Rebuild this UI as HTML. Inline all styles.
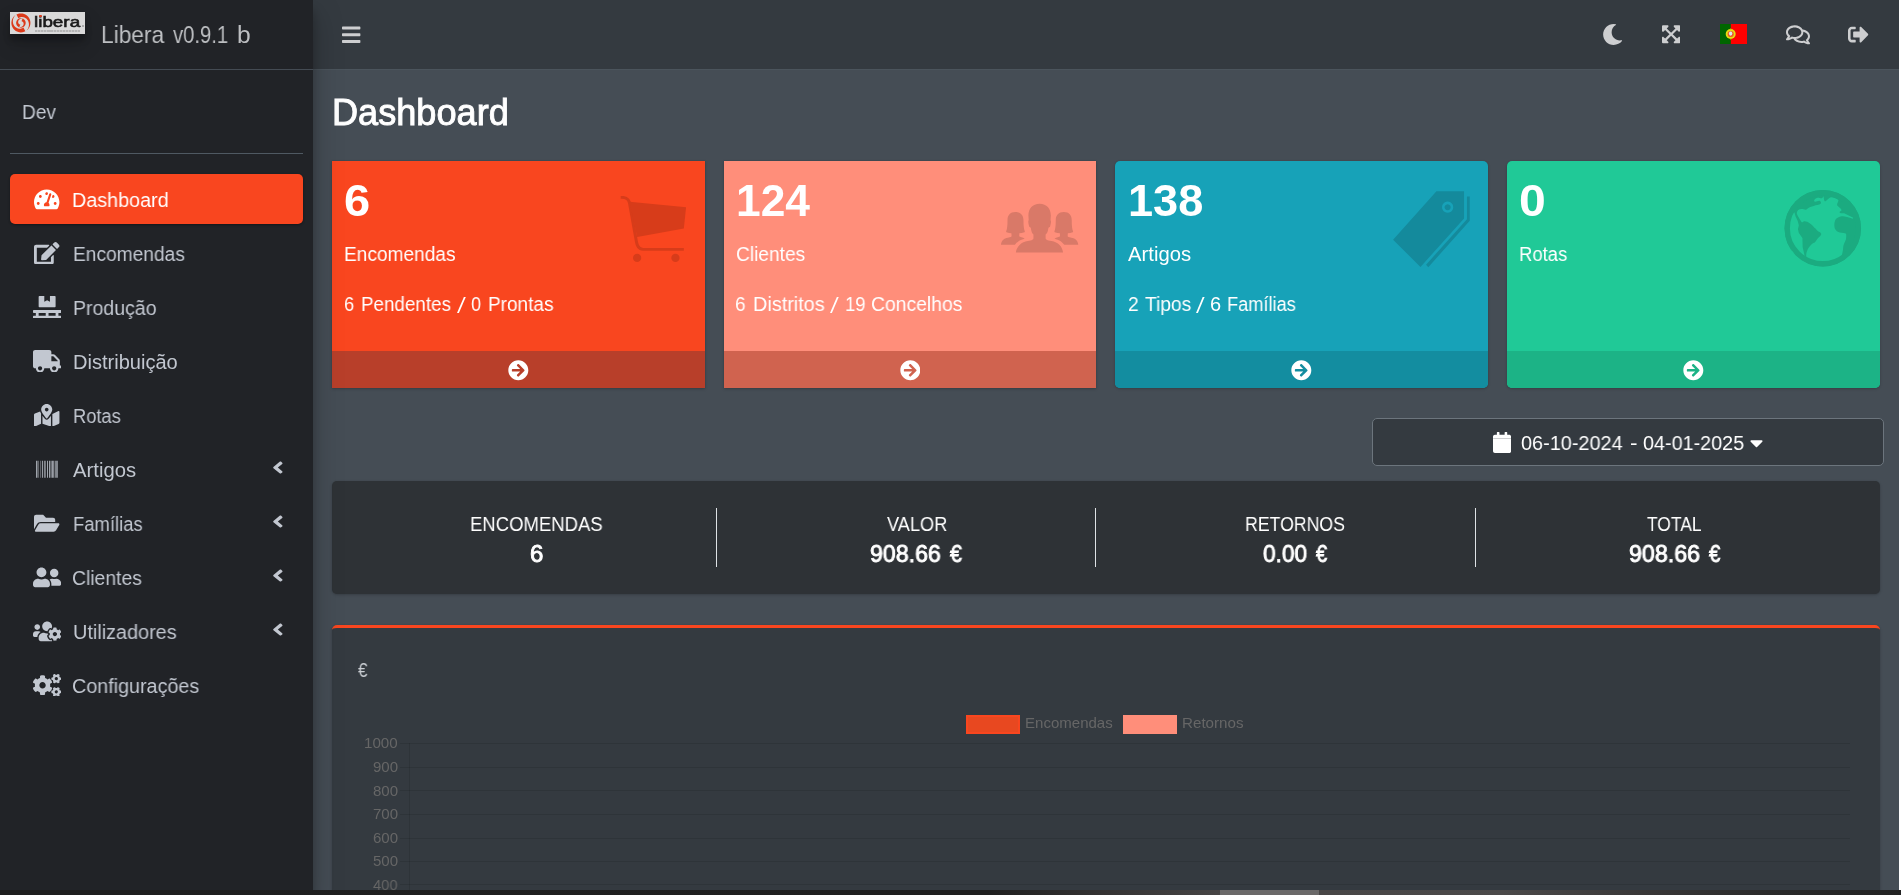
<!DOCTYPE html>
<html><head><meta charset="utf-8"><title>Libera | Dashboard</title>
<style>
html,body{margin:0;padding:0;overflow:hidden}
body{width:1901px;height:895px;overflow:hidden;position:relative;background:#454d55;font-family:"Liberation Sans",sans-serif}
.t{position:absolute;white-space:nowrap;transform-origin:0 50%;display:block;will-change:transform}
</style></head><body><div style="position:absolute;left:313px;top:0px;width:1586px;height:69px;background:#343a40;border-bottom:1px solid #4b545c;box-sizing:content-box"></div><svg style="position:absolute;left:342.20px;top:23.99px" width="18.40" height="21.42" viewBox="0 0 448 512" preserveAspectRatio="none"><path fill="#cdced0" d="M16 132h416c8.837 0 16-7.163 16-16V76c0-8.837-7.163-16-16-16H16C7.163 60 0 67.163 0 76v40c0 8.837 7.163 16 16 16zm0 160h416c8.837 0 16-7.163 16-16v-40c0-8.837-7.163-16-16-16H16c-8.837 0-16 7.163-16 16v40c0 8.837 7.163 16 16 16zm0 160h416c8.837 0 16-7.163 16-16v-40c0-8.837-7.163-16-16-16H16c-8.837 0-16 7.163-16 16v40c0 8.837 7.163 16 16 16z"/></svg><svg style="position:absolute;left:1602.18px;top:23.70px" width="21.24" height="21.00" viewBox="0 0 512 512" preserveAspectRatio="none"><path fill="#cdced0" d="M283.211 512c78.962 0 151.079-35.925 198.857-94.792 7.068-8.708-.639-21.430-11.562-19.350-124.203 23.654-238.262-71.576-238.262-196.954 0-72.222 38.662-138.635 101.498-174.394 9.686-5.512 7.250-20.197-3.756-22.230A258.156 258.156 0 0 0 283.211 0c-141.309 0-256 114.511-256 256 0 141.309 114.511 256 256 256z"/></svg><svg style="position:absolute;left:1662.00px;top:24.41px" width="18.20" height="20.57" viewBox="0 0 448 512" preserveAspectRatio="none"><path fill="#cdced0" d="M448 344v112a23.940 23.940 0 0 1-24 24H312c-21.390 0-32.090-25.900-17-41l36.200-36.200L224 295.600 116.770 402.900 153 439c15.090 15.100 4.390 41-17 41H24a23.940 23.940 0 0 1-24-24V344c0-21.400 25.890-32.100 41-17l36.190 36.200L184.460 256 77.180 148.700 41 185c-15.100 15.100-41 4.400-41-17V56a23.940 23.940 0 0 1 24-24h112c21.390 0 32.090 25.900 17 41l-36.200 36.200L224 216.400l107.230-107.300L295 73c-15.090-15.100-4.390-41 17-41h112a23.940 23.940 0 0 1 24 24v112c0 21.400-25.890 32.100-41 17l-36.190-36.200L263.540 256l107.280 107.300L407 327.100c15.100-15.200 41-4.500 41 16.900z"/></svg><svg style="position:absolute;left:1786.00px;top:23.64px" width="24.00" height="21.71" viewBox="0 0 576 512" preserveAspectRatio="none"><path fill="#cdced0" d="M532 386.200c27.500-27.100 44-61.100 44-98.200 0-80-76.500-146.100-176.200-157.900C368.300 72.500 294.300 32 208 32 93.100 32 0 103.600 0 192c0 37 16.500 71 44 98.200-15.300 30.700-37.300 54.500-37.700 54.900-6.300 6.700-8.100 16.500-4.400 25 3.600 8.500 12 14 21.200 14 53.500 0 96.700-20.200 125.200-38.800 9.200 2.100 18.700 3.700 28.400 4.900C208.100 407.600 281.800 448 368 448c20.800 0 40.800-2.400 59.800-6.800C456.300 459.700 499.400 480 553 480c9.200 0 17.500-5.500 21.200-14 3.600-8.500 1.900-18.300-4.400-25-.4-.3-22.500-24.100-37.800-54.800zm-392.800-92.300L122.100 305c-14.100 9.100-28.500 16.300-43.100 21.400 2.700-4.700 5.400-9.700 8-14.800l15.500-31.100L77.700 256C64.200 242.600 48 220.700 48 192c0-60.700 73.300-112 160-112s160 51.300 160 112-73.300 112-160 112c-16.500 0-33-1.900-49-5.600l-19.800-4.500zM498.300 352l-24.700 24.400 15.500 31.100c2.600 5.100 5.300 10.100 8 14.800-14.600-5.100-29-12.300-43.100-21.400l-17.100-11.100-19.900 4.600c-16 3.700-32.500 5.600-49 5.600-54 0-102.200-20.100-131.300-49.700C338 339.500 416 272.900 416 192c0-3.400-.4-6.700-.7-10C479.700 196.500 528 238.800 528 288c0 28.700-16.200 50.600-29.700 64z"/></svg><svg style="position:absolute;left:1848.40px;top:24.17px" width="20.60" height="21.07" viewBox="0 0 512 512" preserveAspectRatio="none"><path fill="#cdced0" d="M497 273L329 441c-15 15-41 4.500-41-17v-96H152c-13.300 0-24-10.700-24-24v-96c0-13.300 10.700-24 24-24h136V88c0-21.400 25.900-32 41-17l168 168c9.300 9.400 9.300 24.600 0 34zM192 436v-40c0-6.600-5.400-12-12-12H96c-17.700 0-32-14.300-32-32V160c0-17.700 14.300-32 32-32h84c6.600 0 12-5.400 12-12V76c0-6.600-5.400-12-12-12H96c-53 0-96 43-96 96v192c0 53 43 96 96 96h84c6.600 0 12-5.400 12-12z"/></svg><svg style="position:absolute;left:1720px;top:24px" width="27" height="20" viewBox="0 0 27 20"><rect width="27" height="20" fill="#f00"/><rect width="10.8" height="20" fill="#060"/><circle cx="10.7" cy="10" r="5" fill="#e6dc10"/><circle cx="10.7" cy="10" r="3.1" fill="#ee5a2a"/><ellipse cx="10.6" cy="9.6" rx="1.7" ry="2.1" fill="#dfe6f2"/><path d="M10.7 4.4v1.2M10.7 14.4v1.2" stroke="#c8b400" stroke-width="1"/></svg><span id="t1" class="t" style="left:332.29px;top:94.63px;font-size:36px;line-height:36px;color:#fff;font-weight:400;font-family:'Liberation Sans',sans-serif;transform:scaleX(1.0037);-webkit-text-stroke:0.9px #fff;">Dashboard</span><div style="position:absolute;left:332px;top:161px;width:373px;height:227px;background:#f9461f;border-radius:0px;box-shadow:0 0 1px rgba(0,0,0,.125),0 1px 3px rgba(0,0,0,.2);overflow:hidden"></div><div style="position:absolute;left:332px;top:350.8px;width:373px;height:37.2px;background:#b83f2a;border-radius:0 0 0px 0px"></div><svg style="position:absolute;left:508.18px;top:359.98px" width="20.65" height="20.65" viewBox="0 0 512 512" preserveAspectRatio="none"><path fill="#fff" d="M256 8c137 0 248 111 248 248S393 504 256 504 8 393 8 256 119 8 256 8zm-28.900 143.600l75.500 72.400H120c-13.300 0-24 10.700-24 24v16c0 13.300 10.700 24 24 24h182.600l-75.500 72.400c-9.700 9.300-9.900 24.800-.4 34.300l11 10.900c9.400 9.400 24.600 9.400 33.900 0L404.300 273c9.400-9.400 9.400-24.600 0-33.900L271.600 106.300c-9.400-9.400-24.600-9.400-33.900 0l-11 10.900c-9.500 9.600-9.300 25.100.4 34.400z"/></svg><div style="position:absolute;left:724px;top:161px;width:372px;height:227px;background:#ff8e7a;border-radius:0px;box-shadow:0 0 1px rgba(0,0,0,.125),0 1px 3px rgba(0,0,0,.2);overflow:hidden"></div><div style="position:absolute;left:724px;top:350.8px;width:372px;height:37.2px;background:#d0634f;border-radius:0 0 0px 0px"></div><svg style="position:absolute;left:899.68px;top:359.98px" width="20.65" height="20.65" viewBox="0 0 512 512" preserveAspectRatio="none"><path fill="#fff" d="M256 8c137 0 248 111 248 248S393 504 256 504 8 393 8 256 119 8 256 8zm-28.900 143.600l75.500 72.400H120c-13.300 0-24 10.700-24 24v16c0 13.300 10.700 24 24 24h182.600l-75.500 72.400c-9.700 9.300-9.900 24.800-.4 34.300l11 10.900c9.400 9.400 24.600 9.400 33.900 0L404.300 273c9.400-9.400 9.400-24.600 0-33.900L271.600 106.300c-9.400-9.400-24.600-9.400-33.900 0l-11 10.900c-9.500 9.600-9.300 25.100.4 34.400z"/></svg><div style="position:absolute;left:1115px;top:161px;width:373px;height:227px;background:#17a2b8;border-radius:5px;box-shadow:0 0 1px rgba(0,0,0,.125),0 1px 3px rgba(0,0,0,.2);overflow:hidden"></div><div style="position:absolute;left:1115px;top:350.8px;width:373px;height:37.2px;background:#138da0;border-radius:0 0 5px 5px"></div><svg style="position:absolute;left:1291.18px;top:359.98px" width="20.65" height="20.65" viewBox="0 0 512 512" preserveAspectRatio="none"><path fill="#fff" d="M256 8c137 0 248 111 248 248S393 504 256 504 8 393 8 256 119 8 256 8zm-28.900 143.600l75.500 72.400H120c-13.300 0-24 10.700-24 24v16c0 13.300 10.700 24 24 24h182.600l-75.500 72.400c-9.700 9.300-9.900 24.800-.4 34.300l11 10.900c9.400 9.400 24.600 9.400 33.900 0L404.300 273c9.400-9.400 9.400-24.600 0-33.900L271.600 106.300c-9.400-9.400-24.600-9.400-33.900 0l-11 10.900c-9.500 9.600-9.300 25.100.4 34.400z"/></svg><div style="position:absolute;left:1507px;top:161px;width:373px;height:227px;background:#20c997;border-radius:5px;box-shadow:0 0 1px rgba(0,0,0,.125),0 1px 3px rgba(0,0,0,.2);overflow:hidden"></div><div style="position:absolute;left:1507px;top:350.8px;width:373px;height:37.2px;background:#1cb386;border-radius:0 0 5px 5px"></div><svg style="position:absolute;left:1683.18px;top:359.98px" width="20.65" height="20.65" viewBox="0 0 512 512" preserveAspectRatio="none"><path fill="#fff" d="M256 8c137 0 248 111 248 248S393 504 256 504 8 393 8 256 119 8 256 8zm-28.900 143.600l75.500 72.400H120c-13.300 0-24 10.700-24 24v16c0 13.300 10.700 24 24 24h182.600l-75.500 72.400c-9.700 9.300-9.900 24.800-.4 34.300l11 10.900c9.400 9.400 24.600 9.400 33.900 0L404.300 273c9.400-9.400 9.400-24.600 0-33.900L271.600 106.300c-9.400-9.400-24.600-9.400-33.900 0l-11 10.900c-9.500 9.600-9.300 25.100.4 34.400z"/></svg><span id="t2" class="t" style="left:344.46px;top:179.05px;font-size:44px;line-height:44px;color:#fff;font-weight:700;font-family:'Liberation Sans',sans-serif;transform:scaleX(1.0680);">6</span><span id="t3" class="t" style="left:736.42px;top:179.05px;font-size:44px;line-height:44px;color:#fff;font-weight:700;font-family:'Liberation Sans',sans-serif;transform:scaleX(1.0074);">124</span><span id="t4" class="t" style="left:1128.39px;top:179.05px;font-size:44px;line-height:44px;color:#fff;font-weight:700;font-family:'Liberation Sans',sans-serif;transform:scaleX(1.0255);">138</span><span id="t5" class="t" style="left:1518.53px;top:179.05px;font-size:44px;line-height:44px;color:#fff;font-weight:700;font-family:'Liberation Sans',sans-serif;transform:scaleX(1.0939);">0</span><span id="t6" class="t" style="left:344.31px;top:244.07px;font-size:20px;line-height:20px;color:#fff;font-weight:400;font-family:'Liberation Sans',sans-serif;transform:scaleX(0.9560);">Encomendas</span><span id="t7" class="t" style="left:735.54px;top:244.07px;font-size:20px;line-height:20px;color:#fff;font-weight:400;font-family:'Liberation Sans',sans-serif;transform:scaleX(0.9571);">Clientes</span><span id="t8" class="t" style="left:1128.15px;top:244.07px;font-size:20px;line-height:20px;color:#fff;font-weight:400;font-family:'Liberation Sans',sans-serif;transform:scaleX(1.0127);">Artigos</span><span id="t9" class="t" style="left:1519.28px;top:244.07px;font-size:20px;line-height:20px;color:#fff;font-weight:400;font-family:'Liberation Sans',sans-serif;transform:scaleX(0.9248);">Rotas</span><span id="t10" class="t" style="left:344.32px;top:293.67px;font-size:20px;line-height:20px;color:#fff;font-weight:400;font-family:'Liberation Sans',sans-serif;transform:scaleX(0.9158);">6</span><span id="t11" class="t" style="left:360.87px;top:293.67px;font-size:20px;line-height:20px;color:#fff;font-weight:400;font-family:'Liberation Sans',sans-serif;transform:scaleX(0.9402);">Pendentes</span><svg style="position:absolute;left:456.00px;top:296.00px" width="10.80" height="18.10" viewBox="456.00 296.00 10.80 18.10"><path fill="#fff" d="M457.00,313.10 L458.90,313.10 L465.80,297.00 L463.90,297.00Z"/></svg><span id="t12" class="t" style="left:471.45px;top:293.67px;font-size:20px;line-height:20px;color:#fff;font-weight:400;font-family:'Liberation Sans',sans-serif;transform:scaleX(0.9096);">0</span><span id="t13" class="t" style="left:487.96px;top:293.67px;font-size:20px;line-height:20px;color:#fff;font-weight:400;font-family:'Liberation Sans',sans-serif;transform:scaleX(0.9503);">Prontas</span><span id="t14" class="t" style="left:735.36px;top:293.67px;font-size:20px;line-height:20px;color:#fff;font-weight:400;font-family:'Liberation Sans',sans-serif;transform:scaleX(0.9467);">6</span><span id="t15" class="t" style="left:753.04px;top:293.67px;font-size:20px;line-height:20px;color:#fff;font-weight:400;font-family:'Liberation Sans',sans-serif;transform:scaleX(0.9925);">Distritos</span><svg style="position:absolute;left:829.05px;top:296.00px" width="10.75" height="18.10" viewBox="829.05 296.00 10.75 18.10"><path fill="#fff" d="M830.05,313.10 L831.95,313.10 L838.80,297.00 L836.90,297.00Z"/></svg><span id="t16" class="t" style="left:844.50px;top:293.67px;font-size:20px;line-height:20px;color:#fff;font-weight:400;font-family:'Liberation Sans',sans-serif;transform:scaleX(0.9275);">19</span><span id="t17" class="t" style="left:871.20px;top:293.67px;font-size:20px;line-height:20px;color:#fff;font-weight:400;font-family:'Liberation Sans',sans-serif;transform:scaleX(0.9666);">Concelhos</span><span id="t18" class="t" style="left:1127.54px;top:293.67px;font-size:20px;line-height:20px;color:#fff;font-weight:400;font-family:'Liberation Sans',sans-serif;transform:scaleX(0.9563);">2</span><span id="t19" class="t" style="left:1144.84px;top:293.67px;font-size:20px;line-height:20px;color:#fff;font-weight:400;font-family:'Liberation Sans',sans-serif;transform:scaleX(0.9591);">Tipos</span><svg style="position:absolute;left:1195.40px;top:296.00px" width="10.60" height="18.10" viewBox="1195.40 296.00 10.60 18.10"><path fill="#fff" d="M1196.40,313.10 L1198.30,313.10 L1205.00,297.00 L1203.10,297.00Z"/></svg><span id="t20" class="t" style="left:1210.47px;top:293.67px;font-size:20px;line-height:20px;color:#fff;font-weight:400;font-family:'Liberation Sans',sans-serif;transform:scaleX(0.9724);">6</span><span id="t21" class="t" style="left:1227.13px;top:293.67px;font-size:20px;line-height:20px;color:#fff;font-weight:400;font-family:'Liberation Sans',sans-serif;transform:scaleX(0.9112);">Famílias</span><svg style="position:absolute;left:600px;top:180px" width="110" height="100" viewBox="0 0 984 895"><g fill="#d73c1a"><path d="M185,144 L185,168 C225,166 243,175 250,205 L310,540 C318,600 340,632 385,634 L750,634 L750,608 L390,608 C355,606 345,585 337,540 L280,215 C272,165 240,142 185,144 Z"/><path d="M265,195 L770,245 L750,435 L332,510 Z"/><circle cx="332" cy="697" r="37"/><circle cx="675" cy="697" r="37"/></g></svg><svg style="position:absolute;left:985px;top:185px" width="110" height="85" viewBox="0 0 1158 895"><g fill="#d97968"><path d="M575,197 C650,197 693,250 693,320 L690,370 C698,375 695,400 685,440 C680,445 672,445 668,450 C662,490 655,510 638,522 L638,560 C640,575 650,580 700,590 C770,600 815,650 822,712 L325,712 C332,650 380,600 450,590 C500,580 508,575 510,560 L510,522 C495,510 488,490 482,450 C478,445 470,445 466,440 C455,400 452,375 460,370 L457,320 C457,250 500,197 575,197 Z"/><path d="M320,285 C375,285 405,320 405,370 C405,430 410,470 420,490 C420,500 400,505 362,508 L360,540 C365,550 400,552 418,565 C370,575 335,600 315,630 L168,630 C172,585 200,560 240,555 C270,550 280,545 280,540 L278,508 C240,505 222,500 222,490 C232,470 237,430 237,370 C237,320 265,285 320,285 Z"/><path transform="translate(1150,0) scale(-1,1)" d="M320,285 C375,285 405,320 405,370 C405,430 410,470 420,490 C420,500 400,505 362,508 L360,540 C365,550 400,552 418,565 C370,575 335,600 315,630 L168,630 C172,585 200,560 240,555 C270,550 280,545 280,540 L278,508 C240,505 222,500 222,490 C232,470 237,430 237,370 C237,320 265,285 320,285 Z"/></g></svg><svg style="position:absolute;left:1380px;top:180px" width="110" height="100" viewBox="0 0 984 895"><g fill="#148a9c"><path fill-rule="evenodd" d="M505,100 L752,100 L752,345 L362,778 L117,535 Z M605,193 a50,50 0 1 0 0.1,0 Z M605,216 a27,27 0 1 1 -0.1,0 Z"/><path d="M778,147 L803,147 L803,365 L432,780 L412,758 L778,352 Z"/></g></svg><svg style="position:absolute;left:1770px;top:180px" width="110" height="100" viewBox="0 0 984 895"><circle cx="472" cy="432" r="342" fill="#1bab80"/><g fill="#20c997"><path d="M218,288 L150,330 L140,500 L200,650 L312,690 L292,600 L290,520 L258,475 L250,440 L258,405 L248,368 L228,325 Z"/><path d="M240,300 C235,270 270,250 300,262 C315,268 325,268 330,262 C345,245 400,228 440,220 C458,215 460,200 450,190 C435,180 420,195 405,195 C385,190 395,170 420,160 C440,155 460,170 468,160 L478,145 C485,160 480,185 492,192 C510,185 525,160 545,155 C570,158 600,165 612,180 C612,200 595,215 602,228 C615,245 640,255 640,270 C635,280 620,280 622,288 C635,305 655,295 668,300 L745,338 L740,346 C700,330 660,322 640,325 C615,330 600,340 588,352 C575,375 572,410 580,435 C590,455 605,468 625,470 C645,475 670,470 680,482 C685,500 680,515 680,530 C670,560 655,580 655,600 C655,630 645,660 640,690 L600,740 L350,740 L325,690 C320,660 330,630 350,600 C365,580 385,565 400,560 C415,545 420,530 430,520 C445,505 462,495 458,480 C450,465 435,465 425,455 C415,445 410,435 400,430 C385,410 365,395 355,388 C340,375 320,368 305,370 C295,375 290,382 283,378 C272,365 268,352 262,345 C255,330 245,320 240,300 Z"/></g><circle cx="472" cy="432" r="318" fill="none" stroke="#1bab80" stroke-width="48"/></svg><div style="position:absolute;left:1372px;top:418px;width:512px;height:47.5px;background:#343a40;border:1px solid #6c757d;border-radius:5px;box-sizing:border-box"></div><svg style="position:absolute;left:1493.00px;top:431.90px" width="18.10" height="21.00" viewBox="0 0 448 512" preserveAspectRatio="none"><path fill="#fff" d="M12 192h424c6.600 0 12 5.400 12 12v260c0 26.500-21.500 48-48 48H48c-26.500 0-48-21.500-48-48V204c0-6.600 5.400-12 12-12zm436-44v-36c0-26.500-21.500-48-48-48h-48V12c0-6.600-5.400-12-12-12h-40c-6.600 0-12 5.400-12 12v52H160V12c0-6.600-5.400-12-12-12h-40c-6.600 0-12 5.400-12 12v52H48C21.500 64 0 85.500 0 112v36c0 6.600 5.400 12 12 12h424c6.600 0 12-5.400 12-12zM0 150h448v52H0z"/></svg><span id="t22" class="t" style="left:1520.83px;top:433.07px;font-size:20px;line-height:20px;color:#fff;font-weight:400;font-family:'Liberation Sans',sans-serif;transform:scaleX(0.9934);">06-10-2024</span><span id="t23" class="t" style="left:1630.10px;top:433.07px;font-size:20px;line-height:20px;color:#fff;font-weight:400;font-family:'Liberation Sans',sans-serif;transform:scaleX(1.1258);">-</span><span id="t24" class="t" style="left:1642.81px;top:433.07px;font-size:20px;line-height:20px;color:#fff;font-weight:400;font-family:'Liberation Sans',sans-serif;transform:scaleX(0.9884);">04-01-2025</span><svg style="position:absolute;left:1750.33px;top:431.62px" width="13.03" height="21.81" viewBox="0 0 320 512" preserveAspectRatio="none"><path fill="#fff" d="M31.3 192h257.300c17.800 0 26.700 21.500 14.100 34.100L174.100 354.800c-7.800 7.800-20.500 7.800-28.300 0L17.200 226.100C4.600 213.500 13.500 192 31.300 192z"/></svg><div style="position:absolute;left:332px;top:480.7px;width:1548px;height:113.6px;background:#2e3236;border-radius:5px;box-shadow:0 0 1px rgba(0,0,0,.125),0 1px 3px rgba(0,0,0,.2)"></div><div style="position:absolute;left:716px;top:508px;width:1px;height:58.5px;background:#dee2e6;"></div><div style="position:absolute;left:1095px;top:508px;width:1px;height:58.5px;background:#dee2e6;"></div><div style="position:absolute;left:1475px;top:508px;width:1px;height:58.5px;background:#dee2e6;"></div><span id="t25" class="t" style="left:469.97px;top:514.27px;font-size:20px;line-height:20px;color:#fff;font-weight:400;font-family:'Liberation Sans',sans-serif;transform:scaleX(0.9254);">ENCOMENDAS</span><span id="t26" class="t" style="left:887.37px;top:514.27px;font-size:20px;line-height:20px;color:#fff;font-weight:400;font-family:'Liberation Sans',sans-serif;transform:scaleX(0.9087);">VALOR</span><span id="t27" class="t" style="left:1245.46px;top:514.27px;font-size:20px;line-height:20px;color:#fff;font-weight:400;font-family:'Liberation Sans',sans-serif;transform:scaleX(0.8840);">RETORNOS</span><span id="t28" class="t" style="left:1647.29px;top:514.27px;font-size:20px;line-height:20px;color:#fff;font-weight:400;font-family:'Liberation Sans',sans-serif;transform:scaleX(0.8703);">TOTAL</span><span id="t29" class="t" style="left:529.94px;top:541.58px;font-size:24px;line-height:24px;color:#fff;font-weight:400;font-family:'Liberation Sans',sans-serif;transform:scaleX(0.9797);-webkit-text-stroke:0.9px #fff;">6</span><span id="t30" class="t" style="left:869.83px;top:541.58px;font-size:24px;line-height:24px;color:#fff;font-weight:400;font-family:'Liberation Sans',sans-serif;transform:scaleX(0.9647);-webkit-text-stroke:0.9px #fff;">908.66</span><span id="t31" class="t" style="left:950.23px;top:541.58px;font-size:24px;line-height:24px;color:#fff;font-weight:400;font-family:'Liberation Sans',sans-serif;transform:scaleX(0.8876);-webkit-text-stroke:0.9px #fff;">€</span><span id="t32" class="t" style="left:1262.72px;top:541.58px;font-size:24px;line-height:24px;color:#fff;font-weight:400;font-family:'Liberation Sans',sans-serif;transform:scaleX(0.9453);-webkit-text-stroke:0.9px #fff;">0.00</span><span id="t33" class="t" style="left:1315.96px;top:541.58px;font-size:24px;line-height:24px;color:#fff;font-weight:400;font-family:'Liberation Sans',sans-serif;transform:scaleX(0.8276);-webkit-text-stroke:0.9px #fff;">€</span><span id="t34" class="t" style="left:1629.03px;top:541.58px;font-size:24px;line-height:24px;color:#fff;font-weight:400;font-family:'Liberation Sans',sans-serif;transform:scaleX(0.9681);-webkit-text-stroke:0.9px #fff;">908.66</span><span id="t35" class="t" style="left:1709.46px;top:541.58px;font-size:24px;line-height:24px;color:#fff;font-weight:400;font-family:'Liberation Sans',sans-serif;transform:scaleX(0.8477);-webkit-text-stroke:0.9px #fff;">€</span><div style="position:absolute;left:332px;top:625px;width:1548px;height:266.5px;background:#343a40;border-top:3.5px solid #f9461f;border-radius:5px 5px 0 0;box-shadow:0 0 1px rgba(0,0,0,.125),0 1px 3px rgba(0,0,0,.2)"></div><span id="t36" class="t" style="left:357.59px;top:660.07px;font-size:20px;line-height:20px;color:#c9cdd2;font-weight:400;font-family:'Liberation Sans',sans-serif;transform:scaleX(0.8462);">€</span><div style="position:absolute;left:966px;top:714.6px;width:54px;height:19px;background:#e84820;border:2px solid #f9461f;box-sizing:border-box"></div><div style="position:absolute;left:1123px;top:714.6px;width:54.3px;height:19px;background:#ff8e7a;"></div><span id="t37" class="t" style="left:1024.81px;top:714.90px;font-size:15px;line-height:15px;color:#666;font-weight:400;font-family:'Liberation Sans',sans-serif;transform:scaleX(1.0019);">Encomendas</span><span id="t38" class="t" style="left:1182.22px;top:714.90px;font-size:15px;line-height:15px;color:#666;font-weight:400;font-family:'Liberation Sans',sans-serif;transform:scaleX(1.0106);">Retornos</span><div style="position:absolute;left:400px;top:742.5px;width:1450px;height:1px;background:rgba(0,0,0,.1);"></div><span id="t39" class="t" style="left:364.12px;top:735.20px;font-size:15px;line-height:15px;color:#666;font-weight:400;font-family:'Liberation Sans',sans-serif;transform:scaleX(1.0093);">1000</span><div style="position:absolute;left:400px;top:766.5px;width:1450px;height:1px;background:rgba(0,0,0,.1);"></div><span id="t40" class="t" style="left:372.96px;top:759.00px;font-size:15px;line-height:15px;color:#666;font-weight:400;font-family:'Liberation Sans',sans-serif;transform:scaleX(1.0026);">900</span><div style="position:absolute;left:400px;top:789.5px;width:1450px;height:1px;background:rgba(0,0,0,.1);"></div><span id="t41" class="t" style="left:372.96px;top:782.50px;font-size:15px;line-height:15px;color:#666;font-weight:400;font-family:'Liberation Sans',sans-serif;transform:scaleX(1.0026);">800</span><div style="position:absolute;left:400px;top:813.5px;width:1450px;height:1px;background:rgba(0,0,0,.1);"></div><span id="t42" class="t" style="left:372.96px;top:806.00px;font-size:15px;line-height:15px;color:#666;font-weight:400;font-family:'Liberation Sans',sans-serif;transform:scaleX(1.0026);">700</span><div style="position:absolute;left:400px;top:837.5px;width:1450px;height:1px;background:rgba(0,0,0,.1);"></div><span id="t43" class="t" style="left:372.96px;top:829.50px;font-size:15px;line-height:15px;color:#666;font-weight:400;font-family:'Liberation Sans',sans-serif;transform:scaleX(1.0026);">600</span><div style="position:absolute;left:400px;top:860.5px;width:1450px;height:1px;background:rgba(0,0,0,.1);"></div><span id="t44" class="t" style="left:372.96px;top:853.00px;font-size:15px;line-height:15px;color:#666;font-weight:400;font-family:'Liberation Sans',sans-serif;transform:scaleX(1.0026);">500</span><div style="position:absolute;left:400px;top:883.5px;width:1450px;height:1px;background:rgba(0,0,0,.1);"></div><span id="t45" class="t" style="left:373.13px;top:876.50px;font-size:15px;line-height:15px;color:#666;font-weight:400;font-family:'Liberation Sans',sans-serif;transform:scaleX(0.9795);">400</span><div style="position:absolute;left:409px;top:743px;width:1px;height:149px;background:rgba(0,0,0,.1);"></div><div style="position:absolute;left:0px;top:0px;width:313px;height:895px;background:#212327;box-shadow:0 14px 28px rgba(0,0,0,.25),0 10px 10px rgba(0,0,0,.22)"></div><div style="position:absolute;left:0px;top:69px;width:313px;height:1px;background:#444b53;"></div><div style="position:absolute;left:10px;top:12px;width:75px;height:22px;background:#d9d9d9;box-shadow:0 10px 20px rgba(0,0,0,.19),0 6px 6px rgba(0,0,0,.23)"></div>
<svg style="position:absolute;left:10.8px;top:13.1px" width="19.8" height="19.8" viewBox="0 0 100 100"><path fill="#dc3a1a" d="M27.5,7.6 L30.7,6.0 L34.1,4.7 L37.6,3.6 L41.1,2.8 L44.7,2.3 L48.3,2.0 L51.9,2.0 L55.5,2.3 L59.1,2.9 L62.6,3.7 L66.1,4.8 L69.4,6.1 L72.7,7.7 L75.8,9.5 L78.8,11.6 L81.6,13.9 L84.3,16.4 L86.7,19.1 L88.9,21.9 L90.9,24.9 L92.7,28.1 L94.2,31.4 L95.5,34.7 L96.5,38.2 L97.3,41.8 L97.8,45.4 L98.0,49.0 L97.9,52.6 L97.6,56.2 L97.0,59.8 L96.1,63.3 L95.0,66.7 L93.6,70.1 L92.0,73.3 L90.1,76.4 L88.0,79.4 L85.7,82.1 L83.1,84.7 L80.4,87.1 L77.5,89.3 L77.5,89.3 L80.0,86.6 L82.2,83.8 L84.2,80.8 L85.9,77.7 L87.3,74.6 L88.5,71.4 L89.4,68.1 L90.0,64.9 L90.4,61.7 L90.6,58.4 L90.5,55.3 L90.1,52.2 L89.6,49.2 L88.8,46.2 L87.8,43.4 L86.7,40.7 L85.3,38.2 L83.8,35.8 L82.1,33.5 L80.3,31.4 L78.4,29.5 L76.3,27.8 L74.2,26.2 L72.0,24.9 L69.7,23.7 L67.4,22.7 L65.1,21.9 L62.7,21.3 L60.4,20.9 L58.0,20.6 L55.7,20.5 L53.4,20.6 L51.2,20.8 L49.0,21.2 L46.8,21.8 L44.8,22.4 L42.8,23.2 L40.9,24.1 L39.1,25.1 L37.3,26.2ZM72.5,92.4 L69.3,94.0 L65.9,95.3 L62.4,96.4 L58.9,97.2 L55.3,97.7 L51.7,98.0 L48.1,98.0 L44.5,97.7 L40.9,97.1 L37.4,96.3 L33.9,95.2 L30.6,93.9 L27.3,92.3 L24.2,90.5 L21.2,88.4 L18.4,86.1 L15.7,83.6 L13.3,80.9 L11.1,78.1 L9.1,75.1 L7.3,71.9 L5.8,68.6 L4.5,65.3 L3.5,61.8 L2.7,58.2 L2.2,54.6 L2.0,51.0 L2.1,47.4 L2.4,43.8 L3.0,40.2 L3.9,36.7 L5.0,33.3 L6.4,29.9 L8.0,26.7 L9.9,23.6 L12.0,20.6 L14.3,17.9 L16.9,15.3 L19.6,12.9 L22.5,10.7 L22.5,10.7 L20.0,13.4 L17.8,16.2 L15.8,19.2 L14.1,22.3 L12.7,25.4 L11.5,28.6 L10.6,31.9 L10.0,35.1 L9.6,38.3 L9.4,41.6 L9.5,44.7 L9.9,47.8 L10.4,50.8 L11.2,53.8 L12.2,56.6 L13.3,59.3 L14.7,61.8 L16.2,64.2 L17.9,66.5 L19.7,68.6 L21.6,70.5 L23.7,72.2 L25.8,73.8 L28.0,75.1 L30.3,76.3 L32.6,77.3 L34.9,78.1 L37.3,78.7 L39.6,79.1 L42.0,79.4 L44.3,79.5 L46.6,79.4 L48.8,79.2 L51.0,78.8 L53.2,78.2 L55.2,77.6 L57.2,76.8 L59.1,75.9 L60.9,74.9 L62.7,73.8ZM58.2,27.4 L60.0,28.2 L61.8,29.1 L63.5,30.2 L65.1,31.3 L66.6,32.7 L68.0,34.1 L69.2,35.6 L70.4,37.3 L71.3,39.0 L72.2,40.8 L72.9,42.7 L73.4,44.6 L73.8,46.6 L74.0,48.5 L74.0,50.5 L73.9,52.5 L73.6,54.5 L73.1,56.4 L72.5,58.3 L71.8,60.1 L70.8,61.9 L69.8,63.6 L68.6,65.2 L67.3,66.7 L65.8,68.0 L64.3,69.3 L62.6,70.4 L60.9,71.4 L59.1,72.2 L57.2,72.9 L55.3,73.4 L53.3,73.8 L51.4,74.0 L49.4,74.0 L47.4,73.9 L45.4,73.6 L43.5,73.1 L41.6,72.5 L39.8,71.7 L38.0,70.8 L38.0,70.8 L40.0,71.3 L41.9,71.6 L43.9,71.7 L45.8,71.7 L47.6,71.5 L49.4,71.1 L51.2,70.6 L52.8,70.0 L54.4,69.3 L55.8,68.4 L57.1,67.5 L58.4,66.4 L59.5,65.3 L60.4,64.1 L61.3,62.9 L62.0,61.6 L62.6,60.3 L63.1,59.0 L63.4,57.7 L63.7,56.4 L63.8,55.1 L63.8,53.8 L63.7,52.6 L63.5,51.4 L63.2,50.3 L62.8,49.2 L62.4,48.2 L61.8,47.3 L61.2,46.4 L60.6,45.6 L59.9,44.9 L59.2,44.2 L58.5,43.7 L57.7,43.2 L56.9,42.8 L56.1,42.4 L55.4,42.1 L54.6,41.9 L53.8,41.7 L53.1,41.5ZM41.8,72.6 L40.0,71.8 L38.2,70.9 L36.5,69.8 L34.9,68.7 L33.4,67.3 L32.0,65.9 L30.8,64.4 L29.6,62.7 L28.7,61.0 L27.8,59.2 L27.1,57.3 L26.6,55.4 L26.2,53.4 L26.0,51.5 L26.0,49.5 L26.1,47.5 L26.4,45.5 L26.9,43.6 L27.5,41.7 L28.2,39.9 L29.2,38.1 L30.2,36.4 L31.4,34.8 L32.7,33.3 L34.2,32.0 L35.7,30.7 L37.4,29.6 L39.1,28.6 L40.9,27.8 L42.8,27.1 L44.7,26.6 L46.7,26.2 L48.6,26.0 L50.6,26.0 L52.6,26.1 L54.6,26.4 L56.5,26.9 L58.4,27.5 L60.2,28.3 L62.0,29.2 L62.0,29.2 L60.0,28.7 L58.1,28.4 L56.1,28.3 L54.2,28.3 L52.4,28.5 L50.6,28.9 L48.8,29.4 L47.2,30.0 L45.6,30.7 L44.2,31.6 L42.9,32.5 L41.6,33.6 L40.5,34.7 L39.6,35.9 L38.7,37.1 L38.0,38.4 L37.4,39.7 L36.9,41.0 L36.6,42.3 L36.3,43.6 L36.2,44.9 L36.2,46.2 L36.3,47.4 L36.5,48.6 L36.8,49.7 L37.2,50.8 L37.6,51.8 L38.2,52.7 L38.8,53.6 L39.4,54.4 L40.1,55.1 L40.8,55.8 L41.5,56.3 L42.3,56.8 L43.1,57.2 L43.9,57.6 L44.6,57.9 L45.4,58.1 L46.2,58.3 L46.9,58.5Z"/></svg><span id="t46" class="t" style="left:34.31px;top:14.46px;font-size:15.4px;line-height:15.4px;color:#1a1a1a;font-weight:400;font-family:'Liberation Sans',sans-serif;transform:scaleX(1.2256);-webkit-text-stroke:0.6px #1a1a1a;">libera</span><div style="position:absolute;left:39.3px;top:14.9px;width:2.4px;height:2.4px;background:#dc3a1a;border-radius:50%"></div><div style="position:absolute;left:82px;top:24.5px;width:2px;height:2px;background:#999;border-radius:50%"></div><div style="position:absolute;left:34.6px;top:30.2px;width:45.5px;height:2.2px;background:repeating-linear-gradient(90deg,#b4b4b4 0 2.2px,#c9c9c9 2.2px 3.1px);"></div><span id="t47" class="t" style="left:100.97px;top:23.28px;font-size:24.6px;line-height:24.6px;color:#bdbfc2;font-weight:400;font-family:'Liberation Sans',sans-serif;transform:scaleX(0.9230);">Libera</span><span id="t48" class="t" style="left:173.24px;top:23.28px;font-size:24.6px;line-height:24.6px;color:#bdbfc2;font-weight:400;font-family:'Liberation Sans',sans-serif;transform:scaleX(0.8242);">v0.9.1</span><span id="t49" class="t" style="left:237.47px;top:23.28px;font-size:24.6px;line-height:24.6px;color:#bdbfc2;font-weight:400;font-family:'Liberation Sans',sans-serif;transform:scaleX(0.9846);">b</span><span id="t50" class="t" style="left:21.89px;top:102.07px;font-size:20px;line-height:20px;color:#c2c7d0;font-weight:400;font-family:'Liberation Sans',sans-serif;transform:scaleX(0.9558);">Dev</span><div style="position:absolute;left:10px;top:153px;width:293px;height:1px;background:#4f5962;"></div><div style="position:absolute;left:10px;top:174px;width:293px;height:50px;background:#f9461f;border-radius:5px;box-shadow:0 1px 3px rgba(0,0,0,.12),0 1px 2px rgba(0,0,0,.24)"></div><span id="t51" class="t" style="left:72.46px;top:189.67px;font-size:20px;line-height:20px;color:#fff;font-weight:400;font-family:'Liberation Sans',sans-serif;transform:scaleX(0.9877);">Dashboard</span><svg style="position:absolute;left:34.2875px;top:187.6px;" width="25.43" height="22.60" viewBox="0 0 576 512" preserveAspectRatio="none"><path fill="#fff" d="M288 32C128.94 32 0 160.94 0 320c0 52.8 14.25 102.26 39.06 144.8 5.61 9.62 16.3 15.2 27.44 15.2h443c11.14 0 21.83-5.58 27.44-15.2C561.75 422.26 576 372.8 576 320c0-159.06-128.94-288-288-288zm0 64c14.71 0 26.58 10.13 30.32 23.65-1.11 2.26-2.64 4.23-3.45 6.67l-9.22 27.67c-5.13 3.49-10.97 6.01-17.64 6.01-17.67 0-32-14.33-32-32S270.33 96 288 96zM96 384c-17.67 0-32-14.33-32-32s14.33-32 32-32 32 14.33 32 32-14.33 32-32 32zm48-160c-17.67 0-32-14.33-32-32s14.33-32 32-32 32 14.33 32 32-14.33 32-32 32zm246.77-72.41l-61.33 184C343.13 347.33 352 364.54 352 384c0 11.72-3.38 22.55-8.88 32H232.88c-5.5-9.45-8.88-20.28-8.88-32 0-33.94 26.5-61.43 59.9-63.59l61.34-184.01c4.17-12.56 17.73-19.45 30.36-15.17 12.57 4.19 19.35 17.79 15.17 30.36zm14.66 57.2l15.52-46.55c3.47-1.29 7.13-2.23 11.05-2.23 17.67 0 32 14.33 32 32s-14.33 32-32 32c-11.38-.01-20.89-6.28-26.57-15.22zM480 384c-17.67 0-32-14.33-32-32s14.33-32 32-32 32 14.33 32 32-14.33 32-32 32z"/></svg><span id="t52" class="t" style="left:72.96px;top:243.67px;font-size:20px;line-height:20px;color:#c2c7d0;font-weight:400;font-family:'Liberation Sans',sans-serif;transform:scaleX(0.9588);">Encomendas</span><svg style="position:absolute;left:34.2875px;top:241.6px;" width="25.43" height="22.60" viewBox="0 0 576 512" preserveAspectRatio="none"><path fill="#c2c7d0" d="M402.6 83.2l90.2 90.2c3.8 3.8 3.8 10 0 13.8L274.4 405.6l-92.8 10.3c-12.4 1.4-22.9-9.1-21.5-21.5l10.3-92.8L388.8 83.2c3.8-3.8 10-3.8 13.8 0zm162-22.9l-48.8-48.8c-15.2-15.2-39.9-15.2-55.2 0l-35.4 35.4c-3.8 3.8-3.8 10 0 13.8l90.2 90.2c3.8 3.8 10 3.8 13.8 0l35.4-35.4c15.2-15.3 15.2-40 0-55.2zM384 346.2V448H64V128h229.8c3.2 0 6.2-1.3 8.5-3.5l40-40c7.6-7.6 2.2-20.5-8.5-20.5H48C21.5 64 0 85.5 0 112v352c0 26.5 21.5 48 48 48h352c26.5 0 48-21.5 48-48V306.200c0-10.7-12.9-16-20.5-8.500l-40 40c-2.2 2.300-3.500 5.300-3.500 8.500z"/></svg><span id="t53" class="t" style="left:72.65px;top:297.67px;font-size:20px;line-height:20px;color:#c2c7d0;font-weight:400;font-family:'Liberation Sans',sans-serif;transform:scaleX(0.9770);">Produção</span><svg style="position:absolute;left:32.875px;top:295.6px;" width="28.25" height="22.60" viewBox="0 0 640 512" preserveAspectRatio="none"><path fill="#c2c7d0" d="M144 256h352c8.8 0 16-7.2 16-16V16c0-8.8-7.2-16-16-16H384v128l-64-32-64 32V0H144c-8.8 0-16 7.2-16 16v224c0 8.8 7.2 16 16 16zm480 128c8.800 0 16-7.2 16-16v-32c0-8.8-7.2-16-16-16H16c-8.8 0-16 7.2-16 16v32c0 8.8 7.2 16 16 16h48v64H16c-8.8 0-16 7.2-16 16v32c0 8.8 7.2 16 16 16h608c8.8 0 16-7.2 16-16v-32c0-8.800-7.2-16-16-16h-48v-64h48zm-336 64H128v-64h160v64zm224 0H352v-64h160v64z"/></svg><span id="t54" class="t" style="left:72.88px;top:351.67px;font-size:20px;line-height:20px;color:#c2c7d0;font-weight:400;font-family:'Liberation Sans',sans-serif;transform:scaleX(1.0026);">Distribuição</span><svg style="position:absolute;left:32.875px;top:349.6px;" width="28.25" height="22.60" viewBox="0 0 640 512" preserveAspectRatio="none"><path fill="#c2c7d0" d="M624 352h-16V243.9c0-12.7-5.1-24.9-14.1-33.900L494 110.100c-9-9-21.2-14.100-33.900-14.100H416V48c0-26.500-21.500-48-48-48H48C21.500 0 0 21.500 0 48v320c0 26.500 21.500 48 48 48h16c0 53 43 96 96 96s96-43 96-96h128c0 53 43 96 96 96s96-43 96-96h48c8.800 0 16-7.200 16-16v-32c0-8.800-7.200-16-16-16zM160 464c-26.500 0-48-21.500-48-48s21.500-48 48-48 48 21.500 48 48-21.500 48-48 48zm320 0c-26.500 0-48-21.500-48-48s21.500-48 48-48 48 21.500 48 48-21.500 48-48 48zm80-208H416V144h44.100l99.900 99.900V256z"/></svg><span id="t55" class="t" style="left:72.50px;top:405.67px;font-size:20px;line-height:20px;color:#c2c7d0;font-weight:400;font-family:'Liberation Sans',sans-serif;transform:scaleX(0.9153);">Rotas</span><svg style="position:absolute;left:34.2875px;top:403.6px;" width="25.43" height="22.60" viewBox="0 0 576 512" preserveAspectRatio="none"><path fill="#c2c7d0" d="M288 0c-69.590 0-126 56.410-126 126 0 56.260 82.350 158.800 113.900 196.020 6.390 7.540 17.820 7.540 24.200 0C331.650 284.800 414 182.260 414 126 414 56.410 357.590 0 288 0zm0 168c-23.200 0-42-18.800-42-42s18.800-42 42-42 42 18.800 42 42-18.800 42-42 42zM20.120 215.950A32.006 32.006 0 0 0 0 245.660v250.320c0 11.320 11.430 19.060 21.940 14.860L160 448V214.920c-8.840-15.980-16.070-31.540-21.250-46.420L20.120 215.950zM288 359.670c-14.070 0-27.380-6.180-36.510-16.960-19.660-23.200-40.570-49.620-59.490-76.720v182l192 64V266c-18.920 27.090-39.820 53.520-59.490 76.720-9.130 10.770-22.440 16.950-36.510 16.950zm266.060-198.510L416 224v288l139.880-55.950A31.996 31.996 0 0 0 576 426.340V176.020c0-11.320-11.430-19.060-21.940-14.860z"/></svg><span id="t56" class="t" style="left:72.58px;top:459.67px;font-size:20px;line-height:20px;color:#c2c7d0;font-weight:400;font-family:'Liberation Sans',sans-serif;transform:scaleX(1.0127);">Artigos</span><svg style="position:absolute;left:35.7px;top:457.6px;" width="22.60" height="22.60" viewBox="0 0 512 512" preserveAspectRatio="none"><path fill="#c2c7d0" d="M0 448V64h18v384H0zm26.857-.273V64H36v383.727h-9.143zm27.143 0V64h8.857v383.727H54zm44.857 0V64h8.857v383.727h-8.857zm36 0V64h17.714v383.727h-17.714zm44.857 0V64h8.857v383.727h-8.857zm18 0V64h8.857v383.727h-8.857zm18 0V64h8.857v383.727h-8.857zm35.715 0V64h18v383.727h-18zm44.857 0V64h18v383.727h-18zm35.999 0V64h18.001v383.727h-18.001zm36.001 0V64h18.001v383.727h-18.001zm26.857 0V64h18v383.727h-18zm45.143 0V64h26.857v383.727h-26.857zm35.714 0V64h9.143v383.727H476zm18 .273V64h18v384h-18z"/></svg><svg style="position:absolute;left:271.90px;top:457.80px" width="11.69" height="19.20" viewBox="0 0 256 512" preserveAspectRatio="none"><path fill="#c2c7d0" d="M31.7 239l136-136c9.400-9.400 24.600-9.400 33.900 0l22.600 22.600c9.400 9.400 9.400 24.600 0 33.900L127.900 256l96.400 96.400c9.400 9.400 9.400 24.600 0 33.900L201.700 409c-9.400 9.400-24.600 9.400-33.900 0l-136-136c-9.500-9.400-9.500-24.600-.1-34z"/></svg><span id="t57" class="t" style="left:73.05px;top:513.67px;font-size:20px;line-height:20px;color:#c2c7d0;font-weight:400;font-family:'Liberation Sans',sans-serif;transform:scaleX(0.9224);">Famílias</span><svg style="position:absolute;left:34.2875px;top:511.6000000000001px;" width="25.43" height="22.60" viewBox="0 0 576 512" preserveAspectRatio="none"><path fill="#c2c7d0" d="M572.694 292.093L500.270 416.248A63.997 63.997 0 0 1 444.989 448H45.025c-18.523 0-30.064-20.093-20.731-36.093l72.424-124.155A64 64 0 0 1 152 256h399.964c18.523 0 30.064 20.093 20.730 36.093zM152 224h328v-48c0-26.510-21.490-48-48-48H272l-64-64H48C21.490 64 0 85.490 0 112v278.046l69.077-118.418C86.214 242.250 117.989 224 152 224z"/></svg><svg style="position:absolute;left:271.90px;top:511.80px" width="11.69" height="19.20" viewBox="0 0 256 512" preserveAspectRatio="none"><path fill="#c2c7d0" d="M31.7 239l136-136c9.400-9.400 24.600-9.400 33.900 0l22.600 22.600c9.400 9.400 9.400 24.600 0 33.900L127.900 256l96.400 96.400c9.400 9.400 9.400 24.600 0 33.900L201.700 409c-9.400 9.400-24.600 9.400-33.900 0l-136-136c-9.500-9.400-9.500-24.600-.1-34z"/></svg><span id="t58" class="t" style="left:72.26px;top:567.67px;font-size:20px;line-height:20px;color:#c2c7d0;font-weight:400;font-family:'Liberation Sans',sans-serif;transform:scaleX(0.9668);">Clientes</span><svg style="position:absolute;left:32.875px;top:565.6px;" width="28.25" height="22.60" viewBox="0 0 640 512" preserveAspectRatio="none"><path fill="#c2c7d0" d="M192 256c61.900 0 112-50.100 112-112S253.900 32 192 32 80 82.100 80 144s50.100 112 112 112zm76.800 32h-8.300c-20.800 10-43.900 16-68.500 16s-47.600-6-68.500-16h-8.300C51.600 288 0 339.600 0 403.200V432c0 26.500 21.500 48 48 48h288c26.500 0 48-21.500 48-48v-28.800c0-63.600-51.600-115.200-115.200-115.200zM480 256c53 0 96-43 96-96s-43-96-96-96-96 43-96 96 43 96 96 96zm48 32h-3.800c-13.900 4.800-28.600 8-44.200 8s-30.300-3.200-44.200-8H432c-20.400 0-39.200 5.900-55.700 15.400 24.400 26.300 39.700 61.200 39.700 99.800v38.400c0 2.200-.5 4.300-.6 6.400H592c26.500 0 48-21.500 48-48 0-61.900-50.100-112-112-112z"/></svg><svg style="position:absolute;left:271.90px;top:565.80px" width="11.69" height="19.20" viewBox="0 0 256 512" preserveAspectRatio="none"><path fill="#c2c7d0" d="M31.7 239l136-136c9.400-9.400 24.600-9.400 33.900 0l22.600 22.600c9.400 9.400 9.400 24.600 0 33.900L127.900 256l96.400 96.400c9.400 9.400 9.400 24.600 0 33.900L201.700 409c-9.400 9.400-24.600 9.400-33.900 0l-136-136c-9.500-9.400-9.500-24.600-.1-34z"/></svg><span id="t59" class="t" style="left:72.94px;top:621.67px;font-size:20px;line-height:20px;color:#c2c7d0;font-weight:400;font-family:'Liberation Sans',sans-serif;transform:scaleX(0.9926);">Utilizadores</span><svg style="position:absolute;left:32.875px;top:619.6px;" width="28.25" height="22.60" viewBox="0 0 640 512" preserveAspectRatio="none"><path fill="#c2c7d0" d="M610.5 341.300c2.600-14.100 2.600-28.500 0-42.600l25.800-14.900c3-1.700 4.300-5.200 3.300-8.500-6.700-21.600-18.200-41.200-33.200-57.400-2.300-2.500-6-3.100-9-1.400l-25.800 14.900c-10.900-9.300-23.400-16.500-36.900-21.300v-29.800c0-3.400-2.400-6.400-5.700-7.100-22.300-5-45-4.800-66.200 0-3.300.7-5.700 3.700-5.700 7.100v29.800c-13.500 4.800-26 12-36.900 21.300l-25.800-14.900c-2.900-1.700-6.700-1.100-9 1.400-15 16.200-26.500 35.800-33.200 57.400-1 3.300.4 6.800 3.300 8.500l25.800 14.900c-2.600 14.100-2.600 28.500 0 42.600l-25.800 14.900c-3 1.700-4.300 5.200-3.300 8.500 6.700 21.600 18.200 41.100 33.200 57.400 2.300 2.500 6 3.100 9 1.400l25.800-14.900c10.900 9.300 23.400 16.500 36.900 21.300v29.800c0 3.400 2.400 6.400 5.700 7.100 22.300 5 45 4.800 66.200 0 3.300-.7 5.700-3.700 5.700-7.100v-29.800c13.500-4.800 26-12 36.900-21.300l25.800 14.900c2.900 1.700 6.700 1.100 9-1.400 15-16.200 26.500-35.800 33.200-57.400 1-3.300-.4-6.800-3.300-8.500l-25.800-14.900zM496 368.500c-26.800 0-48.500-21.800-48.500-48.500s21.800-48.500 48.500-48.500 48.500 21.800 48.500 48.500-21.700 48.500-48.500 48.500zM96 224c35.300 0 64-28.700 64-64s-28.700-64-64-64-64 28.700-64 64 28.700 64 64 64zm224 32c1.900 0 3.700-.5 5.600-.6 8.300-21.700 20.500-42.100 36.300-59.200 7.400-8 17.900-12.600 28.900-12.600 6.900 0 13.700 1.800 19.600 5.300l7.900 4.600c.8-.5 1.600-.9 2.400-1.400 7-14.600 11.200-30.800 11.200-48 0-61.900-50.100-112-112-112S208 82.100 208 144c0 61.900 50.100 112 112 112zm105.200 194.500c-2.300-1.200-4.600-2.600-6.800-3.900-8.200 4.800-15.300 9.800-27.500 9.800-10.900 0-21.400-4.600-28.900-12.600-18.300-19.800-32.300-43.900-40.200-69.600-10.700-34.500 24.900-49.700 25.800-50.300-.1-2.600-.1-5.200 0-7.800l-7.900-4.600c-3.800-2.200-7-5-9.800-8.100-3.300.2-6.500.6-9.800.6-24.600 0-47.600-6-68.500-16h-8.300C179.600 288 128 339.600 128 403.200V432c0 26.500 21.500 48 48 48h255.400c-3.700-6-6.200-12.800-6.200-20.300v-9.200zM173.100 274.600C161.500 263.100 145.600 256 128 256H64c-35.300 0-64 28.700-64 64v32c0 17.700 14.300 32 32 32h65.900c6.300-47.400 34.900-87.300 75.200-109.400z"/></svg><svg style="position:absolute;left:271.90px;top:619.80px" width="11.69" height="19.20" viewBox="0 0 256 512" preserveAspectRatio="none"><path fill="#c2c7d0" d="M31.7 239l136-136c9.400-9.400 24.600-9.400 33.900 0l22.600 22.600c9.400 9.400 9.400 24.600 0 33.900L127.900 256l96.400 96.400c9.400 9.400 9.400 24.600 0 33.900L201.700 409c-9.400 9.400-24.600 9.400-33.900 0l-136-136c-9.500-9.400-9.500-24.600-.1-34z"/></svg><span id="t60" class="t" style="left:71.93px;top:675.67px;font-size:20px;line-height:20px;color:#c2c7d0;font-weight:400;font-family:'Liberation Sans',sans-serif;transform:scaleX(0.9865);">Configurações</span><svg style="position:absolute;left:32.875px;top:673.6px;" width="28.25" height="22.60" viewBox="0 0 640 512" preserveAspectRatio="none"><path fill="#c2c7d0" d="M512.100 191l-8.200 14.300c-3 5.300-9.400 7.500-15.100 5.400-11.800-4.400-22.600-10.700-32.100-18.600-4.600-3.800-5.800-10.500-2.800-15.700l8.200-14.300c-6.900-8-12.300-17.300-15.900-27.400h-16.500c-6 0-11.200-4.300-12.200-10.300-2-12-2.100-24.600 0-37.100 1-6 6.200-10.400 12.200-10.400h16.500c3.600-10.100 9-19.400 15.900-27.400l-8.200-14.300c-3-5.200-1.900-11.900 2.800-15.700 9.500-7.900 20.400-14.200 32.100-18.600 5.700-2.100 12.100.1 15.100 5.400l8.200 14.300c10.500-1.900 21.200-1.900 31.700 0L552 6.300c3-5.300 9.400-7.500 15.100-5.400 11.800 4.400 22.600 10.700 32.100 18.600 4.600 3.800 5.800 10.500 2.800 15.700l-8.200 14.300c6.900 8 12.300 17.300 15.900 27.400h16.500c6 0 11.200 4.300 12.200 10.300 2 12 2.100 24.600 0 37.100-1 6-6.200 10.400-12.200 10.400h-16.500c-3.600 10.100-9 19.400-15.900 27.400l8.200 14.300c3 5.200 1.900 11.900-2.800 15.700-9.500 7.900-20.400 14.200-32.100 18.600-5.700 2.100-12.100-.1-15.100-5.400l-8.200-14.300c-10.400 1.900-21.200 1.900-31.700 0zm-10.500-58.800c38.500 29.600 82.400-14.300 52.800-52.800-38.500-29.700-82.400 14.300-52.800 52.800zM386.300 286.100l33.700 16.800c10.100 5.800 14.500 18.100 10.500 29.100-8.900 24.200-26.400 46.400-42.600 65.800-7.400 8.900-20.200 11.100-30.300 5.300l-29.100-16.800c-16 13.700-34.600 24.600-54.900 31.700v33.600c0 11.600-8.300 21.600-19.700 23.600-24.600 4.200-50.400 4.400-75.900 0-11.500-2-20-11.900-20-23.600V418c-20.300-7.200-38.900-18-54.900-31.700L74 403c-10 5.800-22.900 3.600-30.300-5.300-16.200-19.400-33.300-41.600-42.200-65.700-4-10.900.4-23.200 10.500-29.100l33.300-16.800c-3.900-20.900-3.900-42.400 0-63.400L12 205.800c-10.100-5.800-14.600-18.100-10.500-29 8.900-24.200 26-46.400 42.200-65.800 7.400-8.900 20.200-11.100 30.300-5.300l29.100 16.800c16-13.700 34.600-24.600 54.900-31.700V57.100c0-11.500 8.200-21.500 19.600-23.500 24.600-4.200 50.500-4.400 76-.1 11.500 2 20 11.900 20 23.600v33.600c20.300 7.200 38.900 18 54.900 31.700l29.100-16.800c10-5.800 22.900-3.600 30.300 5.300 16.200 19.400 33.200 41.600 42.100 65.800 4 10.900.1 23.200-10 29.100l-33.700 16.800c3.900 21 3.900 42.500 0 63.500zm-117.600 21.100c59.200-77-28.700-164.900-105.700-105.700-59.200 77 28.700 164.900 105.700 105.700zm243.400 182.700l-8.200 14.300c-3 5.300-9.400 7.500-15.100 5.400-11.800-4.400-22.600-10.700-32.100-18.600-4.600-3.800-5.800-10.500-2.800-15.700l8.200-14.300c-6.900-8-12.300-17.300-15.900-27.400h-16.500c-6 0-11.200-4.300-12.200-10.300-2-12-2.100-24.600 0-37.100 1-6 6.200-10.400 12.200-10.400h16.500c3.600-10.100 9-19.400 15.900-27.400l-8.200-14.300c-3-5.200-1.900-11.900 2.800-15.700 9.500-7.900 20.400-14.200 32.100-18.600 5.700-2.100 12.100.1 15.100 5.400l8.200 14.300c10.500-1.900 21.200-1.900 31.700 0l8.200-14.300c3-5.300 9.400-7.500 15.100-5.400 11.800 4.400 22.600 10.700 32.100 18.600 4.600 3.800 5.800 10.500 2.800 15.700l-8.200 14.300c6.900 8 12.300 17.300 15.900 27.400h16.500c6 0 11.200 4.300 12.200 10.300 2 12 2.100 24.600 0 37.100-1 6-6.200 10.400-12.200 10.400h-16.500c-3.600 10.100-9 19.400-15.900 27.400l8.200 14.300c3 5.200 1.900 11.900-2.800 15.700-9.500 7.900-20.400 14.200-32.100 18.600-5.700 2.100-12.100-.1-15.100-5.400l-8.200-14.300c-10.400 1.900-21.200 1.900-31.700 0zM501.600 431c38.500 29.600 82.400-14.300 52.800-52.800-38.500-29.600-82.400 14.300-52.800 52.800z"/></svg><div style="position:absolute;left:1899px;top:0px;width:2px;height:890px;background:#fff;"></div><div style="position:absolute;left:0;top:890px;width:1901px;height:5px;background:linear-gradient(90deg,#1e1e1e 0%,#1f1f1f 52%,#343232 58%,#464444 64%,#4b4949 79%,#3a3838 86%,#2a2a2a 93%,#222 100%)"></div><div style="position:absolute;left:1220px;top:890px;width:99px;height:5px;background:#6b6969;"></div></body></html>
